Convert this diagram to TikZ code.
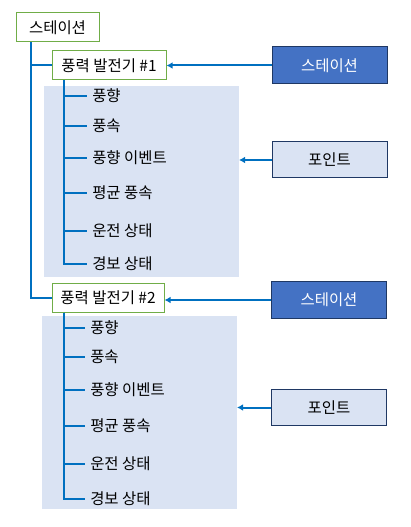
\documentclass[tikz,border=0pt]{standalone}
\usepackage{fontspec}
\setmainfont{Noto Sans CJK KR}
\usetikzlibrary{arrows.meta}
\definecolor{treeblue}{HTML}{0070C0}
\definecolor{boxgreen}{HTML}{70AD47}
\definecolor{panelfill}{HTML}{DAE3F3}
\definecolor{stfill}{HTML}{4472C4}
\definecolor{navy}{HTML}{1F3864}
\tikzset{
  box/.style={draw=boxgreen, fill=white, line width=0.75pt, minimum height=21.75pt},
  leaf/.style={anchor=west, inner xsep=3.75pt},
  tree/.style={draw=treeblue, line width=1.5pt},
  link/.style={draw=treeblue, line width=1.5pt, -{Latex[length=4.5pt,width=5pt]}},
  station/.style={draw=navy, fill=stfill, text=white, line width=0.75pt, minimum width=86.25pt, minimum height=27.75pt},
  point/.style={draw=navy, fill=panelfill, line width=0.75pt, minimum width=86.25pt, minimum height=27pt},
  panel/.style={fill=panelfill}
}
\begin{document}
\begin{tikzpicture}[x=0.75pt, y=-0.75pt, font=\fontsize{11.6}{13}\selectfont]
\useasboundingbox (0,0) rectangle (410,527);
\path (44,86) coordinate (p1nw) (239,277) coordinate (p1se);
\path (42,316) coordinate (p2nw) (237,509) coordinate (p2se);
\fill[panel] (p1nw) rectangle (p1se);
\fill[panel] (p2nw) rectangle (p2se);

\node[box, minimum width=62.25pt] (root) at (57.5,27.5) {스테이션};
\node[box, minimum width=85.5pt] (wt1) at (109,65.5) {풍력 발전기 \#1};
\node[box, minimum width=84pt] (wt2) at (108,297.5) {풍력 발전기 \#2};

\node[station] (st1) at (329.5,65.5) {스테이션};
\node[point] (pt1) at (329.5,160) {포인트};
\node[station] (st2) at (329,300) {스테이션};
\node[point] (pt2) at (329,407.5) {포인트};

\node[leaf] (a1) at (87,96) {풍향};
\node[leaf] (a2) at (87,126) {풍속};
\node[leaf] (a3) at (87,158) {풍향 이벤트};
\node[leaf] (a4) at (87,193) {평균 풍속};
\node[leaf] (a5) at (87,231) {운전 상태};
\node[leaf] (a6) at (87,264) {경보 상태};

\node[leaf] (b1) at (85,328) {풍향};
\node[leaf] (b2) at (85,357) {풍속};
\node[leaf] (b3) at (85,390) {풍향 이벤트};
\node[leaf] (b4) at (85,426) {평균 풍속};
\node[leaf] (b5) at (85,464) {운전 상태};
\node[leaf] (b6) at (85,499) {경보 상태};

\draw[tree] ([xshift=11.25pt]root.south west) |- (wt1.west);
\draw[tree] ([xshift=11.25pt]root.south west) |- (wt2.west);
\foreach \i in {1,...,6} {
  \draw[tree] ([xshift=9pt]wt1.south west) |- (a\i.west);
  \draw[tree] ([xshift=9pt]wt2.south west) |- (b\i.west);
}

\draw[link] (st1.west) -- (wt1.east);
\draw[link] (st2.west) -- (st2.west -| wt2.east);
\draw[link] (pt1.west) -- (pt1.west -| p1se);
\draw[link] (pt2.west) -- (pt2.west -| p2se);
\end{tikzpicture}
\end{document}
